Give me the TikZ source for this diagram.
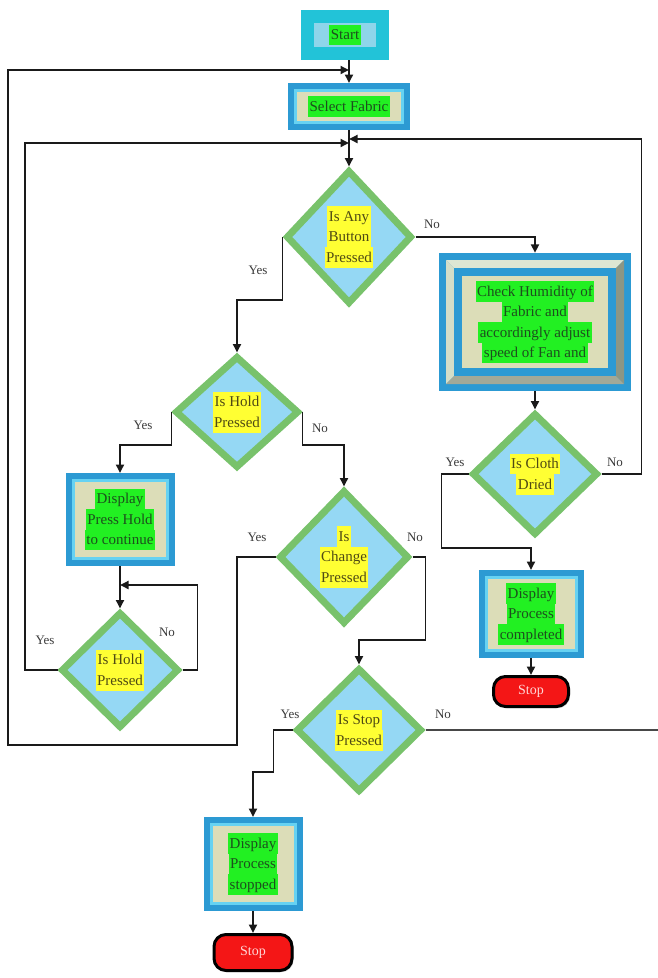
\documentclass[tikz,border=0pt]{standalone}
\usepackage{fontspec}
\setmainfont{Liberation Serif}
\usetikzlibrary{shapes.geometric,arrows.meta,shadows}
\definecolor{startcyan}{HTML}{22C3D8}
\definecolor{startin}{HTML}{8ED5EA}
\definecolor{boxblue}{HTML}{2C9AD3}
\definecolor{boxcyan}{HTML}{66D2F2}
\definecolor{beige}{HTML}{DCDDB8}
\definecolor{hlgreen}{HTML}{22F022}
\definecolor{txtgreen}{HTML}{1D4F1D}
\definecolor{dgreen}{HTML}{78C26B}
\definecolor{dfill}{HTML}{95D8F4}
\definecolor{hlyellow}{HTML}{FFFF33}
\definecolor{txtolive}{HTML}{4F4A14}
\definecolor{stopred}{HTML}{F41616}
\definecolor{stoptext}{HTML}{FFD6D6}
\definecolor{labgrey}{HTML}{3A3A3A}
\definecolor{linec}{HTML}{1A1A1A}
\definecolor{bevtop}{HTML}{DDE6D3}
\definecolor{bevleft}{HTML}{D4DEC8}
\definecolor{bevright}{HTML}{8C9684}
\definecolor{bevbot}{HTML}{A2A998}
\newcommand\hlg[1]{{\setlength\fboxsep{0pt}\colorbox{hlgreen}{\rule[-5.5pt]{0pt}{20.5pt}\hspace{1.5pt}#1\hspace{1.5pt}}}}
\newcommand\hly[1]{{\setlength\fboxsep{0pt}\colorbox{hlyellow}{\rule[-5.5pt]{0pt}{20.5pt}\hspace{1.5pt}#1\hspace{1.5pt}}}}
\tikzset{
  base/.style={font=\fontsize{15}{20.5}\selectfont, align=center, inner sep=0pt},
  dbox/.style={base, fill=beige, draw=boxcyan, line width=3pt,
    preaction={draw=boxblue, line width=15pt}, outer sep=7.5pt, text=txtgreen},
  dec/.style={base, diamond, draw=dgreen, line width=7pt, fill=dfill, text=txtolive},
  stopbox/.style={base, rounded corners=12pt, fill=stopred, draw=black, line width=3pt,
    text=stoptext, font=\fontsize{14}{16}\selectfont,
    drop shadow={shadow xshift=1.5pt, shadow yshift=-1.5pt, fill=black!45}},
  lab/.style={font=\fontsize{13}{15}\selectfont, text=labgrey, inner sep=0pt},
  arr/.style={draw=linec, line width=1.8pt, -{Triangle[length=8.5pt,width=8pt]}},
  ln/.style={draw=linec!80, line width=1.8pt},
}
\begin{document}
\begin{tikzpicture}[x=1pt,y=-1pt]
\useasboundingbox (0,0) rectangle (658,978);

% Humidity box frame
\fill[boxblue] (439,253) rectangle (631,391);
\fill[bevtop] (446,260) -- (624,260) -- (616,268) -- (454,268) -- cycle;
\fill[bevleft] (446,260) -- (454,268) -- (454,376) -- (446,384) -- cycle;
\fill[bevright] (624,260) -- (624,384) -- (616,376) -- (616,268) -- cycle;
\fill[bevbot] (446,384) -- (624,384) -- (616,376) -- (454,376) -- cycle;
\fill[boxblue] (454,268) rectangle (616,376);
\fill[beige] (462,276) rectangle (608,368);

% Nodes
\node[base, fill=startin, minimum width=62pt, minimum height=24pt,
  preaction={draw=startcyan, line width=26pt}, outer sep=13pt, text=txtgreen]
  (start) at (345,35) {\hlg{Start}};
\node[dbox, minimum width=107pt, minimum height=32pt] (sel) at (349,106.5) {\hlg{Select Fabric}};
\node[dec, minimum width=126pt, minimum height=134pt] (any) at (349,237)
  {\hly{Is Any}\\\hly{Button}\\\hly{Pressed}};
\node[base, minimum width=192pt, minimum height=138pt, text=txtgreen] (hum) at (535,322)
  {\hlg{Check Humidity of}\\\hlg{Fabric and}\\\hlg{accordingly adjust}\\\hlg{speed of Fan and}};
\node[dec, minimum width=124pt, minimum height=112pt] (hold1) at (237,412)
  {\hly{Is Hold}\\\hly{Pressed}};
\node[dbox, minimum width=94pt, minimum height=78pt] (dph) at (120,519.5)
  {\hlg{Display}\\\hlg{Press Hold}\\\hlg{to continue}};
\node[dec, minimum width=118pt, minimum height=116pt] (hold2) at (120,670)
  {\hly{Is Hold}\\\hly{Pressed}};
\node[dec, minimum width=130pt, minimum height=134pt] (chg) at (344,557)
  {\hly{Is}\\\hly{Change}\\\hly{Pressed}};
\node[dec, minimum width=126pt, minimum height=124pt] (stopd) at (359,730)
  {\hly{Is Stop}\\\hly{Pressed}};
\node[dec, minimum width=126pt, minimum height=122pt] (cloth) at (535,474)
  {\hly{Is Cloth}\\\hly{Dried}};
\node[dbox, minimum width=90pt, minimum height=73pt] (dpc) at (531,614)
  {\hlg{Display}\\\hlg{Process}\\\hlg{completed}};
\node[dbox, minimum width=84pt, minimum height=79pt] (dps) at (253,864)
  {\hlg{Display}\\\hlg{Process}\\\hlg{stopped}};
\node[stopbox, minimum width=75pt, minimum height=30pt] (stop1) at (531,691.5) {Stop};
\node[stopbox, minimum width=78pt, minimum height=36pt] (stop2) at (253,952.5) {Stop};

% Junction coordinates
\coordinate (j1) at (349,70);
\coordinate (j2) at (349,143);
\coordinate (j3) at (349,139);
\coordinate (j4) at (120,585);
\coordinate (edge) at (658,730);

% Connectors
\draw[arr] (start.south -| sel.north) -- (sel.north);
\draw[arr] (sel) -- (any);
\draw[arr] (any.east) -| (hum.north);
\draw[arr] (any.west) -- ++(0,63) -| (hold1.north);
\draw[arr] (hold1.west) -- ++(0,33) -| (dph.north);
\draw[arr] (hold1.east) -- ++(0,33) -| (chg.north);
\draw[arr] (dph) -- (hold2);
\draw[arr] (hold2.east) -- ++(15,0) |- (j4);
\draw[arr] (hold2.west) -| (25,143) -- (j2);
\draw[arr] (chg.west) -| (237,745) -| (8,70) -- (j1);
\draw[arr] (chg.east) -- ++(13,0) -- ++(0,83) -| (stopd.north);
\draw[arr] (stopd.west) -- ++(-19,0) -- ++(0,42) -| (dps.north);
\draw[ln] (stopd.east) -- (edge);
\draw[arr] (hum) -- (cloth);
\draw[arr] (cloth.west) -- ++(-27,0) -- ++(0,74) -| (dpc.north);
\draw[arr] (cloth.east) -- ++(40,0) |- (j3);
\draw[arr] (dpc) -- (stop1);
\draw[arr] (dps) -- (stop2);

% Labels
\node[lab] (l1) at (432,224) {No};
\node[lab] (l2) at (258,270) {Yes};
\node[lab] (l3) at (143,425) {Yes};
\node[lab] (l4) at (320,428) {No};
\node[lab] (l5) at (257,537) {Yes};
\node[lab] (l6) at (415,537) {No};
\node[lab] (l7) at (455,462) {Yes};
\node[lab] (l8) at (615,462) {No};
\node[lab] (l9) at (45,640) {Yes};
\node[lab] (l10) at (167,632) {No};
\node[lab] (l11) at (290,714) {Yes};
\node[lab] (l12) at (443,714) {No};
\end{tikzpicture}
\end{document}
